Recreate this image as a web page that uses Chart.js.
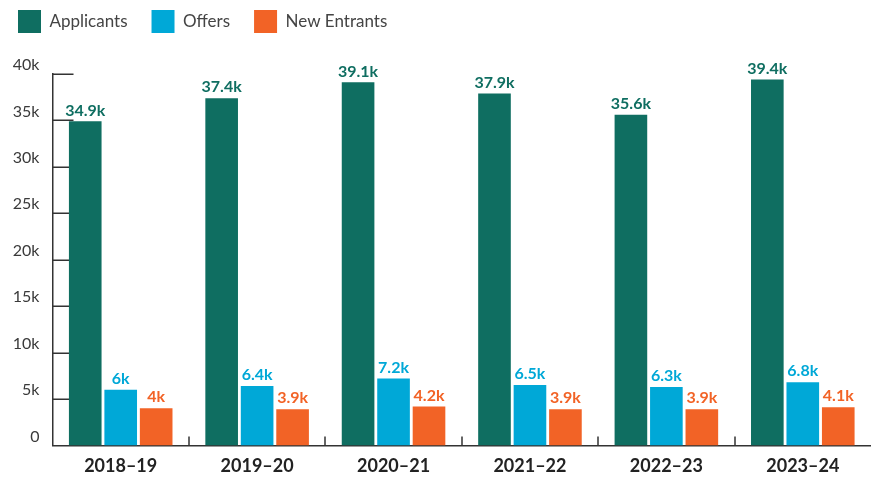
<!DOCTYPE html>
<html>
<head>
<meta charset="utf-8">
<script src="https://cdn.jsdelivr.net/npm/chart.js@4/dist/chart.umd.min.js"></script>
<style>
  html, body { margin: 0; padding: 0; background: #fff; overflow: hidden; }
  #wrap { position: relative; width: 871px; height: 478px; }
</style>
</head>
<body>
<div id="wrap"><canvas id="chart"></canvas></div>
<script>
// Academic years shown on the x axis
const years = ['2018–19', '2019–20', '2020–21', '2021–22', '2022–23', '2023–24'];
// Counts per year
const applicants = [34900, 37400, 39100, 37900, 35600, 39400];
const offers = [6000, 6400, 7200, 6500, 6300, 6800];
const newEntrants = [4000, 3900, 4200, 3900, 3900, 4100];
// Y axis range
const yMax = 40000;
const yStep = 5000;

const FONT = 'Lato, "Open Sans", sans-serif';
const AXIS = '#333333';

function fmtK(v) {
  if (v === 0) return '0';
  return (Math.round(v / 100) / 10) + 'k';
}

// Short tick marks drawn inside the plot area on both axes
const innerTicks = {
  id: 'innerTicks',
  beforeDatasetsDraw(chart) {
    const { ctx, chartArea } = chart;
    const y = chart.scales.y, x = chart.scales.x;
    ctx.save();
    ctx.strokeStyle = AXIS;
    ctx.lineWidth = 1.5;
    ctx.beginPath();
    for (let v = yStep; v <= yMax; v += yStep) {
      const py = Math.round(y.getPixelForValue(v)) + 0.25;
      ctx.moveTo(chartArea.left, py);
      ctx.lineTo(chartArea.left + 21, py);
    }
    for (let i = 0; i < years.length - 1; i++) {
      const px = Math.round((x.getPixelForValue(i) + x.getPixelForValue(i + 1)) / 2);
      ctx.moveTo(px, chartArea.bottom);
      ctx.lineTo(px, chartArea.bottom - 9);
    }
    ctx.stroke();
    ctx.restore();
  }
};

// Value labels above every bar
const valueLabels = {
  id: 'valueLabels',
  afterDatasetsDraw(chart) {
    const { ctx } = chart;
    ctx.save();
    ctx.font = 'bold 16px ' + FONT;
    ctx.textAlign = 'center';
    ctx.textBaseline = 'bottom';
    chart.data.datasets.forEach((ds, di) => {
      const meta = chart.getDatasetMeta(di);
      meta.data.forEach((bar, i) => {
        ctx.fillStyle = ds.backgroundColor;
        ctx.fillText(fmtK(ds.data[i]), bar.x, bar.y - 3);
      });
    });
    ctx.restore();
  }
};

// Fixed legend block height so the plot starts at the same place
const legendHeight = {
  id: 'legendHeight',
  beforeInit(chart) {
    const fit = chart.legend.fit;
    chart.legend.fit = function () {
      fit.call(this);
      this.height = 88;
    };
  }
};

new Chart(document.getElementById('chart'), {
  type: 'bar',
  data: {
    labels: years,
    datasets: [
      { label: 'Applicants', data: applicants, backgroundColor: '#0F6E61' },
      { label: 'Offers', data: offers, backgroundColor: '#00A8D7' },
      { label: 'New Entrants', data: newEntrants, backgroundColor: '#F26326' }
    ]
  },
  options: {
    responsive: true,
    maintainAspectRatio: false,
    animation: false,
    events: [],
    barPercentage: 0.92,
    categoryPercentage: 0.78,
    layout: { padding: { top: -14, left: -6, right: -7, bottom: -9 } },
    plugins: {
      tooltip: { enabled: false },
      legend: {
        position: 'top',
        align: 'start',
        labels: {
          boxWidth: 23,
          boxHeight: 23,
          padding: 24,
          color: '#444444',
          font: { family: FONT, size: 17 }
        }
      }
    },
    scales: {
      x: {
        grid: { display: false, drawTicks: false },
        border: { display: true, color: AXIS, width: 1.5 },
        ticks: {
          padding: 10,
          color: '#222222',
          font: { family: FONT, size: 18, weight: 'bold' }
        }
      },
      y: {
        min: 0,
        max: yMax,
        grid: { display: false, drawTicks: false },
        border: { display: true, color: AXIS, width: 1.5 },
        afterFit(s) { s.width = 58.5; },
        ticks: {
          stepSize: yStep,
          padding: 13,
          labelOffset: -9,
          color: '#3a3a3a',
          font: { family: FONT, size: 16 },
          callback: v => fmtK(v)
        }
      }
    }
  },
  plugins: [legendHeight, innerTicks, valueLabels]
});
</script>
</body>
</html>
